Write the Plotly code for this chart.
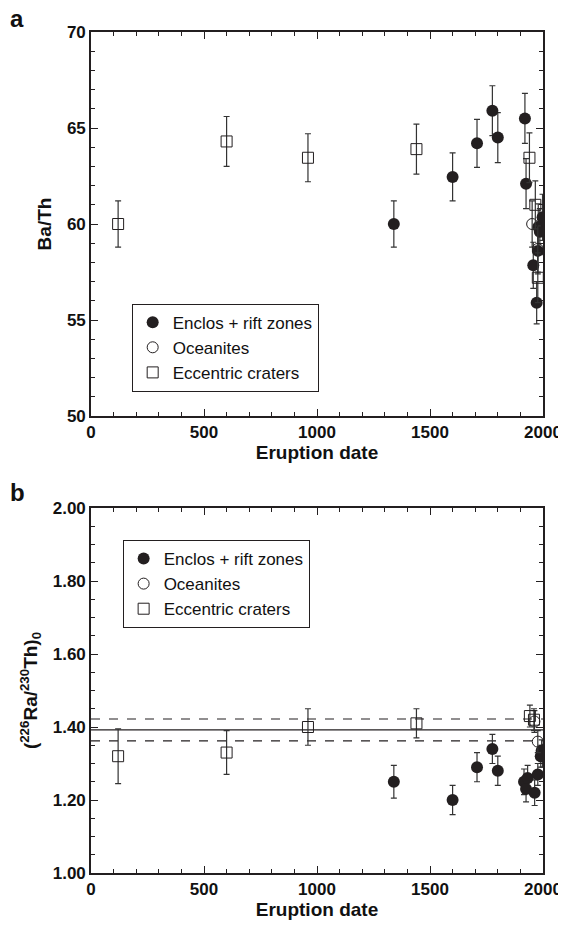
import plotly.graph_objects as go

# ---------------- Data ----------------
# Panel a: Ba/Th vs eruption date
enc_a_x = [1340, 1600, 1708, 1776, 1800, 1920, 1925, 1957, 1972, 1977, 1979, 1986, 1998]
enc_a_y = [60.0, 62.45, 64.2, 65.9, 64.5, 65.5, 62.1, 57.85, 55.9, 58.6, 59.85, 59.6, 60.35]
enc_a_err = [1.2, 1.25, 1.25, 1.3, 1.3, 1.3, 1.3, 1.2, 1.1, 1.2, 1.2, 1.2, 1.2]

oce_a_x = [1952, 1977]
oce_a_y = [60.0, 58.7]
oce_a_err = [1.2, 1.2]

ecc_a_x = [120, 600, 960, 1440, 1940, 1966, 1977]
ecc_a_y = [60.0, 64.3, 63.45, 63.9, 63.45, 61.0, 57.2]
ecc_a_err = [1.2, 1.3, 1.25, 1.3, 1.3, 1.25, 1.3]

# Panel b: (226Ra/230Th)0 vs eruption date
enc_b_x = [1340, 1600, 1708, 1776, 1800, 1916, 1925, 1932, 1963, 1977, 1990, 1994, 1998]
enc_b_y = [1.25, 1.20, 1.29, 1.34, 1.28, 1.25, 1.23, 1.26, 1.22, 1.27, 1.32, 1.335, 1.32]
enc_b_err = [0.045, 0.04, 0.04, 0.04, 0.04, 0.035, 0.035, 0.035, 0.035, 0.03, 0.03, 0.03, 0.03]

oce_b_x = [1962, 1977]
oce_b_y = [1.415, 1.36]
oce_b_err = [0.03, 0.03]

ecc_b_x = [120, 600, 960, 1440, 1942, 1960]
ecc_b_y = [1.32, 1.33, 1.40, 1.41, 1.43, 1.42]
ecc_b_err = [0.075, 0.06, 0.05, 0.04, 0.03, 0.03]

mean_ratio = 1.392
mean_err = 0.03

series_names = ["Enclos + rift zones", "Oceanites", "Eccentric craters"]

x_ticks = [0, 500, 1000, 1500, 2000]
ya_ticks = [50, 55, 60, 65, 70]
yb_ticks = [1.0, 1.2, 1.4, 1.6, 1.8, 2.0]

# ---------------- Figure ----------------
FONT = "Liberation Sans, Arial, sans-serif"
INK = "#231f20"
ERR = "#333333"

fig = go.Figure()

def add_series(x, y, err, name, kind, xa, ya, legend):
    if kind == "filled":
        marker = dict(symbol="circle", size=12, color=INK, line=dict(width=0))
    elif kind == "open":
        marker = dict(symbol="circle-open", size=11, color=INK, line=dict(width=1))
    else:
        marker = dict(symbol="square-open", size=11, color=INK, line=dict(width=1))
    fig.add_trace(go.Scatter(
        x=x, y=y, mode="markers", name=name, marker=marker,
        error_y=dict(type="data", array=err, visible=True, color=ERR,
                     thickness=1.2, width=3),
        xaxis=xa, yaxis=ya, legend=legend, showlegend=True,
    ))

add_series(enc_a_x, enc_a_y, enc_a_err, series_names[0], "filled", "x", "y", "legend")
add_series(oce_a_x, oce_a_y, oce_a_err, series_names[1], "open", "x", "y", "legend")
add_series(ecc_a_x, ecc_a_y, ecc_a_err, series_names[2], "square", "x", "y", "legend")

add_series(enc_b_x, enc_b_y, enc_b_err, series_names[0], "filled", "x2", "y2", "legend2")
add_series(oce_b_x, oce_b_y, oce_b_err, series_names[1], "open", "x2", "y2", "legend2")
add_series(ecc_b_x, ecc_b_y, ecc_b_err, series_names[2], "square", "x2", "y2", "legend2")

# mean and +/- lines in panel b
for val, dash in [(mean_ratio, "solid"), (mean_ratio + mean_err, "dash"), (mean_ratio - mean_err, "dash")]:
    fig.add_shape(type="line", xref="x2", yref="y2", x0=0, x1=2000, y0=val, y1=val,
                  line=dict(color=INK, width=1.2, dash=dash), layer="below")

tickfont = dict(family=FONT, size=17, color="#111111")
titlefont = dict(family=FONT, size=19, color="#111111", weight="bold")

def xaxis_common(anchor):
    return dict(
        range=[0, 2000], tickmode="array", tickvals=x_ticks,
        ticktext=[f"<b>{v}</b>" for v in x_ticks], ticks="inside", ticklen=7,
        tickwidth=1.2, tickcolor=INK, showline=True, linecolor=INK, linewidth=1.6,
        mirror="allticks", showgrid=False, zeroline=False, tickfont=tickfont,
        automargin=False,
        minor=dict(dtick=100, ticks="inside", ticklen=4, tickwidth=1, tickcolor=INK, showgrid=False),
        title=dict(text="<b>Eruption date</b>", font=titlefont, standoff=2), anchor=anchor,
    )

def yaxis_common(domain, rng, vals, fmt, minor_dtick, title, anchor):
    return dict(
        domain=domain, range=rng, tickmode="array", tickvals=vals,
        ticktext=[f"<b>{fmt.format(v)}</b>" for v in vals],
        ticks="inside", ticklen=7, tickwidth=1.2, tickcolor=INK, showline=True,
        linecolor=INK, linewidth=1.6, mirror="allticks", showgrid=False, zeroline=False,
        tickfont=tickfont, automargin=False,
        minor=dict(dtick=minor_dtick, ticks="inside", ticklen=4, tickwidth=1, tickcolor=INK, showgrid=False),
        title=dict(text=title, font=titlefont, standoff=10), anchor=anchor,
    )

# The page body has an 8px default margin, so the figure is drawn 8px in from
# the top-left corner; sizes and margins below account for that offset.
W, H = 556, 912
fig.update_layout(
    width=W, height=H,
    margin=dict(l=83, r=21, t=24, b=47, autoexpand=False),
    paper_bgcolor="white", plot_bgcolor="white",
    font=dict(family=FONT, color=INK),
    xaxis=xaxis_common("y"),
    xaxis2=xaxis_common("y2"),
    yaxis=yaxis_common([0.5434, 1], [50, 70], ya_ticks, "{:.0f}", 1, "<b>Ba/Th</b>", "x"),
    yaxis2=yaxis_common([0, 0.434], [1.0, 2.0], yb_ticks, "{:.2f}", 0.05,
                        "<b>(<sup>226</sup>Ra/<sup>230</sup>Th)<sub>0</sub></b>", "x2"),
    legend=dict(x=0.09, y=0.677, xanchor="left", yanchor="top", bgcolor="white",
                bordercolor=INK, borderwidth=1, font=dict(family=FONT, size=17, color="#111111"),
                tracegroupgap=0, itemwidth=30),
    legend2=dict(x=0.07, y=0.396, xanchor="left", yanchor="top", bgcolor="white",
                 bordercolor=INK, borderwidth=1, font=dict(family=FONT, size=17, color="#111111"),
                 tracegroupgap=0, itemwidth=30),
)

# panel labels positioned in (screen) pixels -> converted to paper coords
plot_w = 452
plot_h = 841
anns = []
for txt, px, py in [("a", 17, 18), ("b", 17, 492)]:
    anns.append(dict(text=f"<b>{txt}</b>", x=(px - 91) / plot_w, y=(873 - py) / plot_h,
                     xref="paper", yref="paper", showarrow=False, xanchor="center", yanchor="middle",
                     font=dict(family=FONT, size=24, color="#111111")))
fig.update_layout(annotations=anns)

fig.write_html("out.html")
